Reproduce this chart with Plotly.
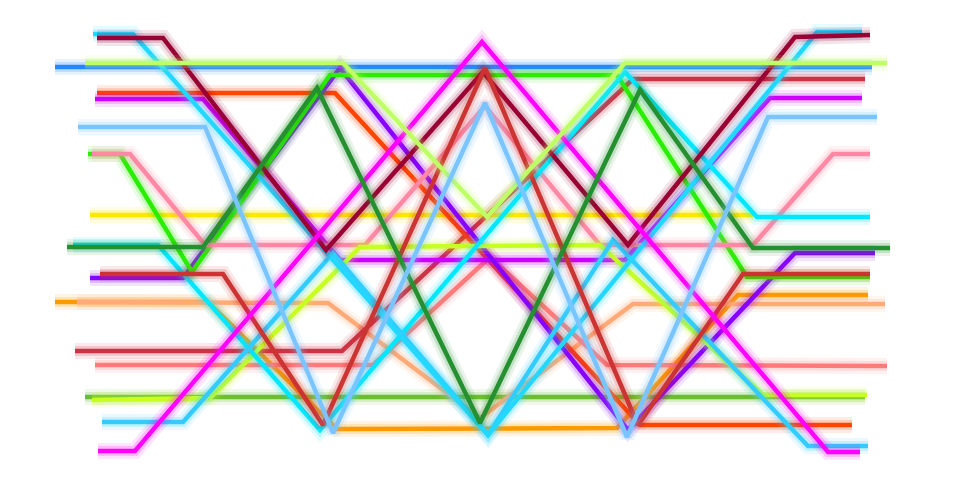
import plotly.graph_objects as go

# each ribbon: x and y (pixel units, y down)
blue_x = [55, 872]
blue_y = [67, 67]
yellow_x = [90, 753]
yellow_y = [215, 215]
olive_x = [85, 865]
olive_y = [397, 397]
orange_x = [55, 208, 337, 617, 738, 868]
orange_y = [302, 302, 429, 428, 295, 295]
lsalmon_x = [77, 328, 480, 633, 885]
lsalmon_y = [302, 303, 418, 304, 304]
salmon_x = [95, 373, 490, 607, 887]
salmon_y = [365, 365, 257, 365, 366]
crimson_x = [75, 342, 633, 865]
crimson_y = [351, 351, 79, 79]
orangered_x = [97, 335, 640, 852]
orangered_y = [93, 93, 425, 425]
purple_x = [95, 203, 340, 625, 770, 862]
purple_y = [99, 99, 260, 260, 98, 98]
violet_x = [90, 183, 340, 628, 795, 875]
violet_y = [278, 278, 68, 430, 253, 253]
lime_x = [88, 120, 192, 330, 617, 747, 870]
lime_y = [154, 154, 272, 75, 75, 277, 277]
pink_x = [92, 130, 205, 365, 485, 600, 753, 833, 870]
pink_y = [154, 154, 245, 245, 106, 245, 245, 154, 154]
ygreen_x = [92, 210, 360, 600, 763, 867]
ygreen_y = [400, 398, 247, 245, 395, 395]
aqua_x = [73, 158, 320, 625, 757, 870]
aqua_y = [245, 245, 430, 72, 217, 217]
dsky_x = [102, 183, 333, 488, 613, 808, 868]
dsky_y = [422, 422, 253, 435, 240, 446, 446]
cyan_x = [93, 133, 488, 817, 862]
cyan_y = [34, 34, 435, 32, 32]
maroon_x = [97, 163, 326, 483, 628, 795, 870]
maroon_y = [38, 38, 250, 72, 245, 37, 35]
brown_x = [100, 223, 323, 485, 638, 743, 870]
brown_y = [274, 274, 425, 68, 425, 274, 274]
magenta_x = [98, 135, 482, 828, 860]
magenta_y = [451, 451, 42, 452, 452]
forest_x = [67, 203, 317, 480, 640, 753, 890]
forest_y = [247, 247, 88, 423, 90, 248, 248]
lgreen_x = [85, 343, 487, 625, 887]
lgreen_y = [63, 63, 217, 63, 63]
lsky_x = [78, 205, 333, 485, 627, 768, 877]
lsky_y = [127, 127, 433, 103, 437, 117, 117]

lines = [
    (blue_x, blue_y, "#2288ff"),
    (yellow_x, yellow_y, "#ffe800"),
    (olive_x, olive_y, "#6abf30"),
    (orange_x, orange_y, "#ff9900"),
    (lsalmon_x, lsalmon_y, "#ffaa77"),
    (salmon_x, salmon_y, "#ff7b7b"),
    (crimson_x, crimson_y, "#cc3344"),
    (orangered_x, orangered_y, "#ff4500"),
    (purple_x, purple_y, "#cc00ff"),
    (violet_x, violet_y, "#8800ff"),
    (lime_x, lime_y, "#2aee00"),
    (pink_x, pink_y, "#ff88a5"),
    (ygreen_x, ygreen_y, "#c8ff22"),
    (aqua_x, aqua_y, "#00e8ff"),
    (dsky_x, dsky_y, "#33ccff"),
    (cyan_x, cyan_y, "#22d8ff"),
    (maroon_x, maroon_y, "#990033"),
    (brown_x, brown_y, "#cc3333"),
    (magenta_x, magenta_y, "#ff00ff"),
    (forest_x, forest_y, "#259030"),
    (lgreen_x, lgreen_y, "#bfff66"),
    (lsky_x, lsky_y, "#7ac5ff"),
]

fig = go.Figure()
for xs, ys, col in lines:
    # soft glow underneath, then the line itself
    fig.add_trace(go.Scatter(x=xs, y=ys, mode="lines", opacity=0.10,
                             line=dict(color=col, width=16), hoverinfo="skip"))
    fig.add_trace(go.Scatter(x=xs, y=ys, mode="lines", opacity=0.18,
                             line=dict(color=col, width=10), hoverinfo="skip"))
    fig.add_trace(go.Scatter(x=xs, y=ys, mode="lines",
                             line=dict(color=col, width=4.5)))

# page has an 8px body margin, so the plot sits 8px in
fig.update_layout(width=944, height=468,
                  margin=dict(l=0, r=0, t=0, b=0),
                  paper_bgcolor="white", plot_bgcolor="white",
                  showlegend=False)
fig.update_xaxes(range=[8, 952], visible=False)
fig.update_yaxes(range=[476, 8], visible=False)
fig.write_html("out.html")
